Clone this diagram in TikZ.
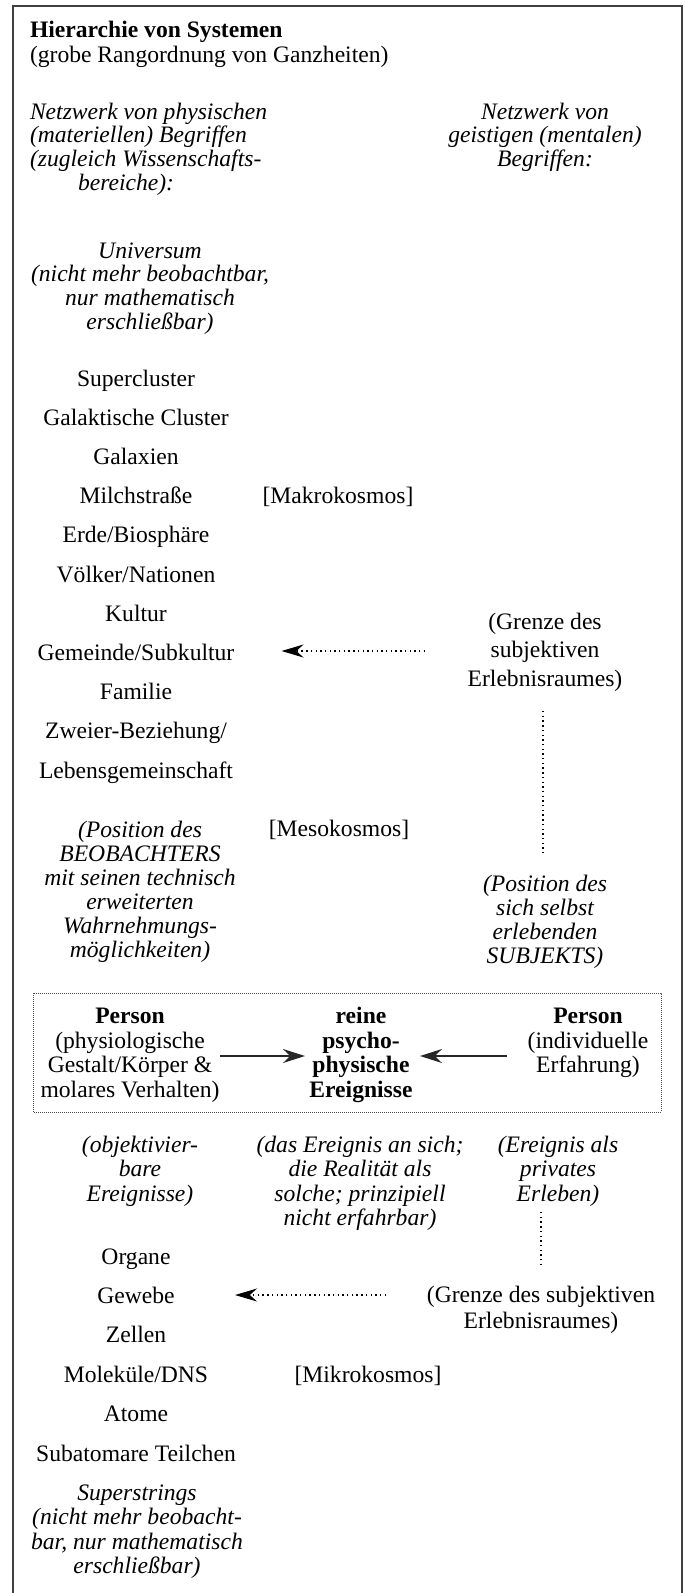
\documentclass[tikz,border=0pt]{standalone}
\usepackage{fontspec}
\setmainfont{Liberation Serif}
\usetikzlibrary{arrows.meta}
\newcommand\myfs[1]{\fontsize{23.6}{#1}\selectfont}
\begin{document}
% multi-line nodes are anchored at the baseline of their last line
\begin{tikzpicture}[x=1pt,y=-1pt,
  every node/.style={inner sep=0pt, outer sep=0pt, font=\myfs{24}},
  item/.style={anchor=base, font=\myfs{24}},
  itl/.style={anchor=base, align=center, font=\myfs{#1}\itshape},
  itl/.default=24,
  rm/.style={anchor=base, align=center, font=\myfs{#1}},
  rm/.default=24,
  frame/.style={line width=2pt, black!75},
  dotline/.style={line width=1.4pt, dash pattern=on 1.4pt off 3.3pt, line cap=butt},
  dotarrow/.style={dotline, -{Stealth[length=22pt,width=13pt]}},
  solidarrow/.style={line width=1.4pt, black!85, -{Stealth[length=22pt,width=14pt]}},
  boxline/.style={line width=0.8pt, black!70, dash pattern=on 0.8pt off 1.2pt}
]
\useasboundingbox (0,0) rectangle (685,1593);
\clip (0,0) rectangle (685,1593);
% outer frame (bottom edge lies outside the picture)
\draw[frame] (13,1620) -- (13,6) -- (681.5,6) -- (681.5,1620);

% heading
\node[anchor=base west, font=\myfs{24}\bfseries] (title) at (30,37) {Hierarchie von Systemen};
\node[anchor=base west] (sub) at (30,62) {(grobe Rangordnung von Ganzheiten)};

\node[anchor=base west, align=left, font=\myfs{23.7}\itshape] (hdrL) at (30,190.1)
  {Netzwerk von physischen\\(materiellen) Begriffen\\(zugleich Wissenschafts-\\\hspace*{48pt}bereiche):};
\node[itl=23.7] (hdrR) at (545,166.4) {Netzwerk von\\geistigen (mentalen)\\Begriffen:};

% upper (macro) column
\node[itl=23.7] (univ) at (150,329.1) {Universum\\(nicht mehr beobachtbar,\\nur mathematisch\\erschließbar)};
\node[item] (supc) at (136,386) {Supercluster};
\node[item] (galc) at (136,425.2) {Galaktische Cluster};
\node[item] (gal) at (136,464.4) {Galaxien};
\node[item] (milch) at (136,503.6) {Milchstraße};
\node[item] (erde) at (136,542.8) {Erde/Biosphäre};
\node[item] (voelk) at (136,582) {Völker/Nationen};
\node[item] (kult) at (136,621.2) {Kultur};
\node[item] (gem) at (136,660.4) {Gemeinde/Subkultur};
\node[item] (fam) at (136,699.6) {Familie};
\node[item] (zweier) at (136,738.8) {Zweier-Beziehung/};
\node[item] (lebens) at (136,778) {Lebensgemeinschaft};
\node[item] (makro) at (338,503.6) {[Makrokosmos]};

\node[rm=28.5] (grenzeO) at (545,686) {(Grenze des\\subjektiven\\Erlebnisraumes)};
\coordinate (gOs) at (425,651);
\coordinate (gOe) at (281.5,651);
\draw[dotarrow] (gOs) -- (gOe);
\coordinate (vOt) at (543,711);
\coordinate (vOb) at (543,856);
\draw[dotline] (vOt) -- (vOb);

\node[itl=24] (posO) at (140,957.3) {(Position des\\BEOBACHTERS\\mit seinen technisch\\erweiterten\\Wahrnehmungs-\\möglichkeiten)};
\node[item] (meso) at (339,836) {[Mesokosmos]};
\node[itl=24.1] (posS) at (545,963.3) {(Position des\\sich selbst\\erlebenden\\SUBJEKTS)};

% central dotted box
\draw[boxline] (33,993) rectangle (661,1112);
\node[rm=24.5] (pL) at (130,1097) {\textbf{Person}\\(physiologische\\Gestalt/Körper \&\\molares Verhalten)};
\node[rm=24.5, font=\myfs{24.5}\bfseries] (pM) at (361,1097) {reine\\psycho-\\physische\\Ereignisse};
\node[rm=24.5] (pR) at (588,1072.5) {\textbf{Person}\\(individuelle\\Erfahrung)};
\coordinate (a1s) at (220,1056);
\coordinate (a1e) at (305,1056);
\coordinate (a2s) at (507,1056);
\coordinate (a2e) at (420,1056);
\draw[solidarrow] (a1s) -- (a1e);
\draw[solidarrow] (a2s) -- (a2e);

\node[itl=24.4] (objL) at (140,1201.1) {(objektivier-\\bare\\Ereignisse)};
\node[itl=24.4] (objM) at (360,1225.5) {(das Ereignis an sich;\\die Realität als\\solche; prinzipiell\\nicht erfahrbar)};
\node[itl=24.4] (objR) at (558,1201.1) {(Ereignis als\\privates\\Erleben)};
\coordinate (vUt) at (541,1212);
\coordinate (vUb) at (541,1268);
\draw[dotline] (vUt) -- (vUb);

% lower (micro) column
\node[item] (org) at (136,1264) {Organe};
\node[item] (gew) at (136,1303.4) {Gewebe};
\node[item] (zel) at (136,1342.8) {Zellen};
\node[item] (mol) at (136,1382.2) {Moleküle/DNS};
\node[item] (atom) at (136,1421.6) {Atome};
\node[item] (subat) at (136,1461) {Subatomare Teilchen};
\node[item] (mikro) at (368,1382.2) {[Mikrokosmos]};
\node[rm=25.4] (grenzeU) at (541,1328.2) {(Grenze des subjektiven\\Erlebnisraumes)};
\coordinate (gUs) at (386,1295);
\coordinate (gUe) at (235,1295);
\draw[dotarrow] (gUs) -- (gUe);

\node[itl=24.3] (superS) at (137,1573.3) {Superstrings\\(nicht mehr beobacht-\\bar, nur mathematisch\\erschließbar)};
\end{tikzpicture}
\end{document}
